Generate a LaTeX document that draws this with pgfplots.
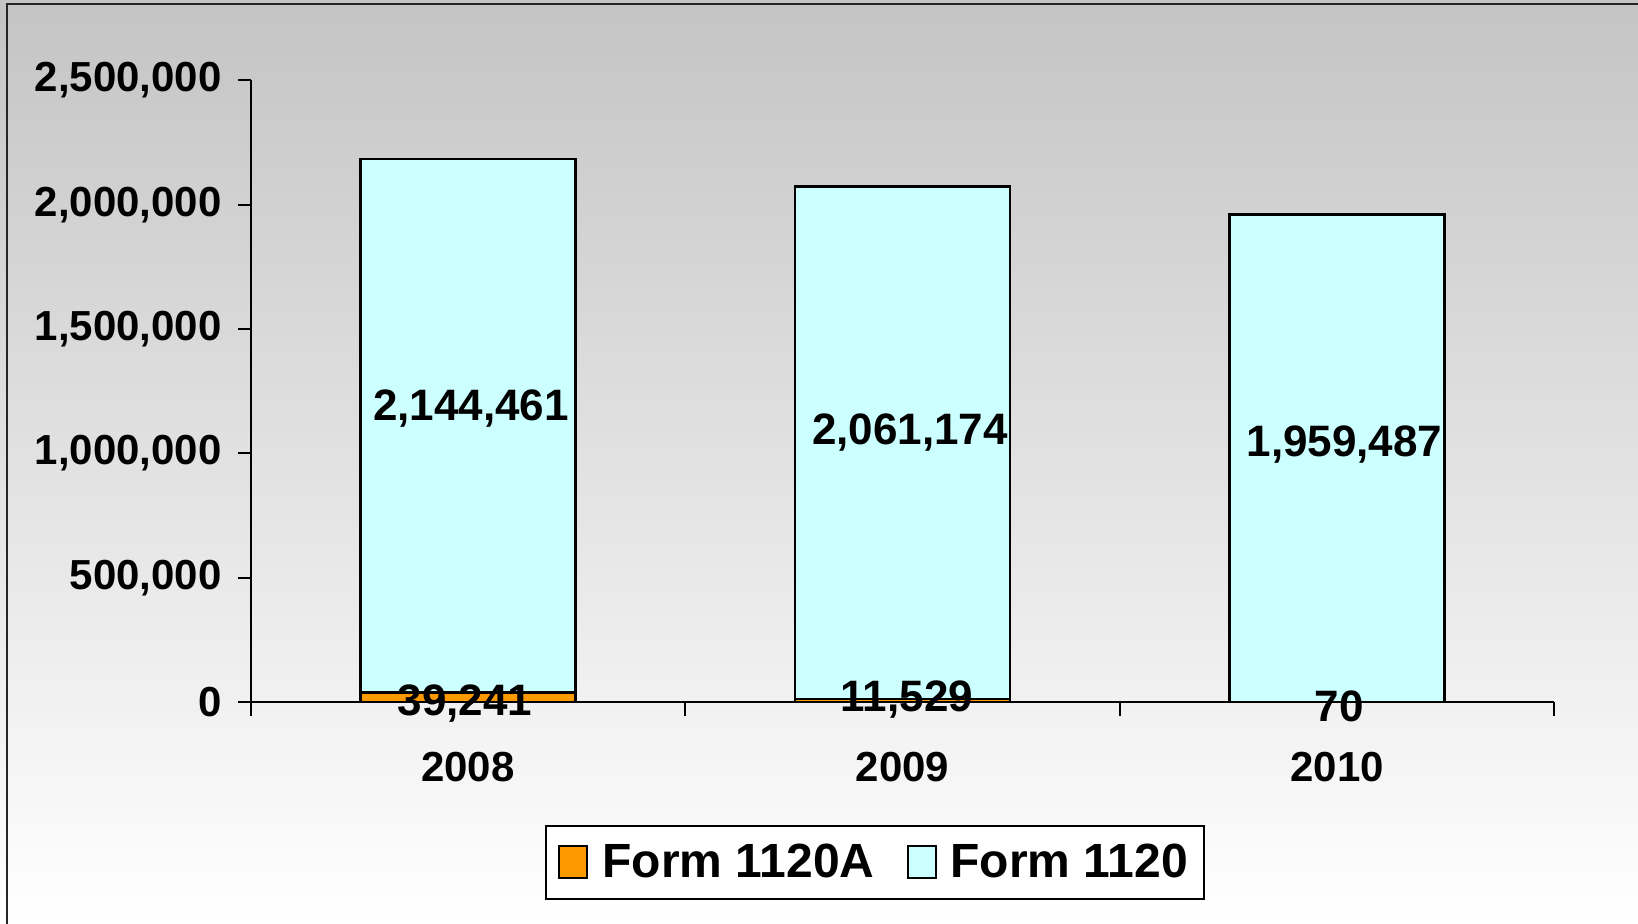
\documentclass[border=0pt]{standalone}
\usepackage{fontspec}
\setmainfont{Liberation Sans}
\usepackage{pgfplots}
\pgfplotsset{compat=1.18}

\definecolor{f1120a}{HTML}{FF9900}
\definecolor{f1120}{HTML}{CCFFFF}
\definecolor{bgtop}{HTML}{C4C4C4}
\newcommand{\fs}[1]{\fontsize{#1}{#1}\selectfont\bfseries}

\begin{document}
\begin{tikzpicture}
\useasboundingbox (0,0) rectangle (819pt,461.5pt);
\shade[top color=bgtop, bottom color=white] (0,0) rectangle (819pt,461.5pt);
\draw[line width=1pt, black!85] (3.5pt,-1pt) -- (3.5pt,459.5pt) -- (820pt,459.5pt);

\begin{axis}[
  at={(125.35pt,110.5pt)}, anchor=south west,
  scale only axis, width=651.85pt, height=310.8pt,
  ybar stacked, bar width=107.5pt,
  xmin=-0.5, xmax=2.5, ymin=0, ymax=2500000,
  axis x line*=bottom, axis y line*=left,
  axis line style={-, line width=1pt},
  clip=false,
  xtick={0,1,2}, xticklabels={2008,2009,2010},
  minor xtick={-0.5,0.5,1.5,2.5},
  ytick={0,500000,1000000,1500000,2000000,2500000},
  tick align=outside,
  major tick length=6.3pt, minor tick length=7pt,
  tick style={black, line width=1pt},
  major x tick style={draw=none},
  scaled y ticks=false,
  /pgf/number format/assume math mode=true,
  yticklabel={\pgfmathprintnumber[fixed,1000 sep={,}]{\tick}},
  ticklabel style={font=\fs{21}},
  yticklabel style={inner sep=0pt, xshift=-8pt},
  xticklabel style={inner sep=0pt, yshift=-18.7pt},
  legend style={at={(0.479,-0.258)}, anchor=center, draw=black,
    line width=1pt, fill=white, font=\fs{24}, legend columns=2,
    inner xsep=6pt, inner ysep=7pt,
    /tikz/every odd column/.append style={column sep=5pt},
    /tikz/every even column/.append style={column sep=14pt}},
  legend image code/.code={\draw[#1, line width=1pt] (0pt,-8pt) rectangle (14pt,8pt);},
  % value labels, drawn on top of the bars
  after end axis/.code={
    \node[anchor=base, font=\fs{22}] at (axis cs:0.007,1134170) {2,144,461};
    \node[anchor=base, font=\fs{22}] at (axis cs:1.017,1036440) {2,061,174};
    \node[anchor=base, font=\fs{22}] at (axis cs:2.017,986200) {1,959,487};
    \node[anchor=base, font=\fs{22}] at (axis cs:-0.007,-55000) {39,241};
    \node[anchor=base, font=\fs{22}] at (axis cs:1.01,-39000) {11,529};
    \node[anchor=base, font=\fs{22}] at (axis cs:2.005,-79200) {70};
  },
]

% Form 1120A (bottom segment)
\addplot[fill=f1120a, draw=black, line width=1.3pt]
  coordinates {(0,39241) (1,11529) (2,70)};
\addlegendentry{Form 1120A}

% Form 1120 (stacked on top)
\addplot[fill=f1120, draw=black, line width=1.3pt]
  coordinates {(0,2144461) (1,2061174) (2,1959487)};
\addlegendentry{Form 1120}

\end{axis}
\end{tikzpicture}
\end{document}
